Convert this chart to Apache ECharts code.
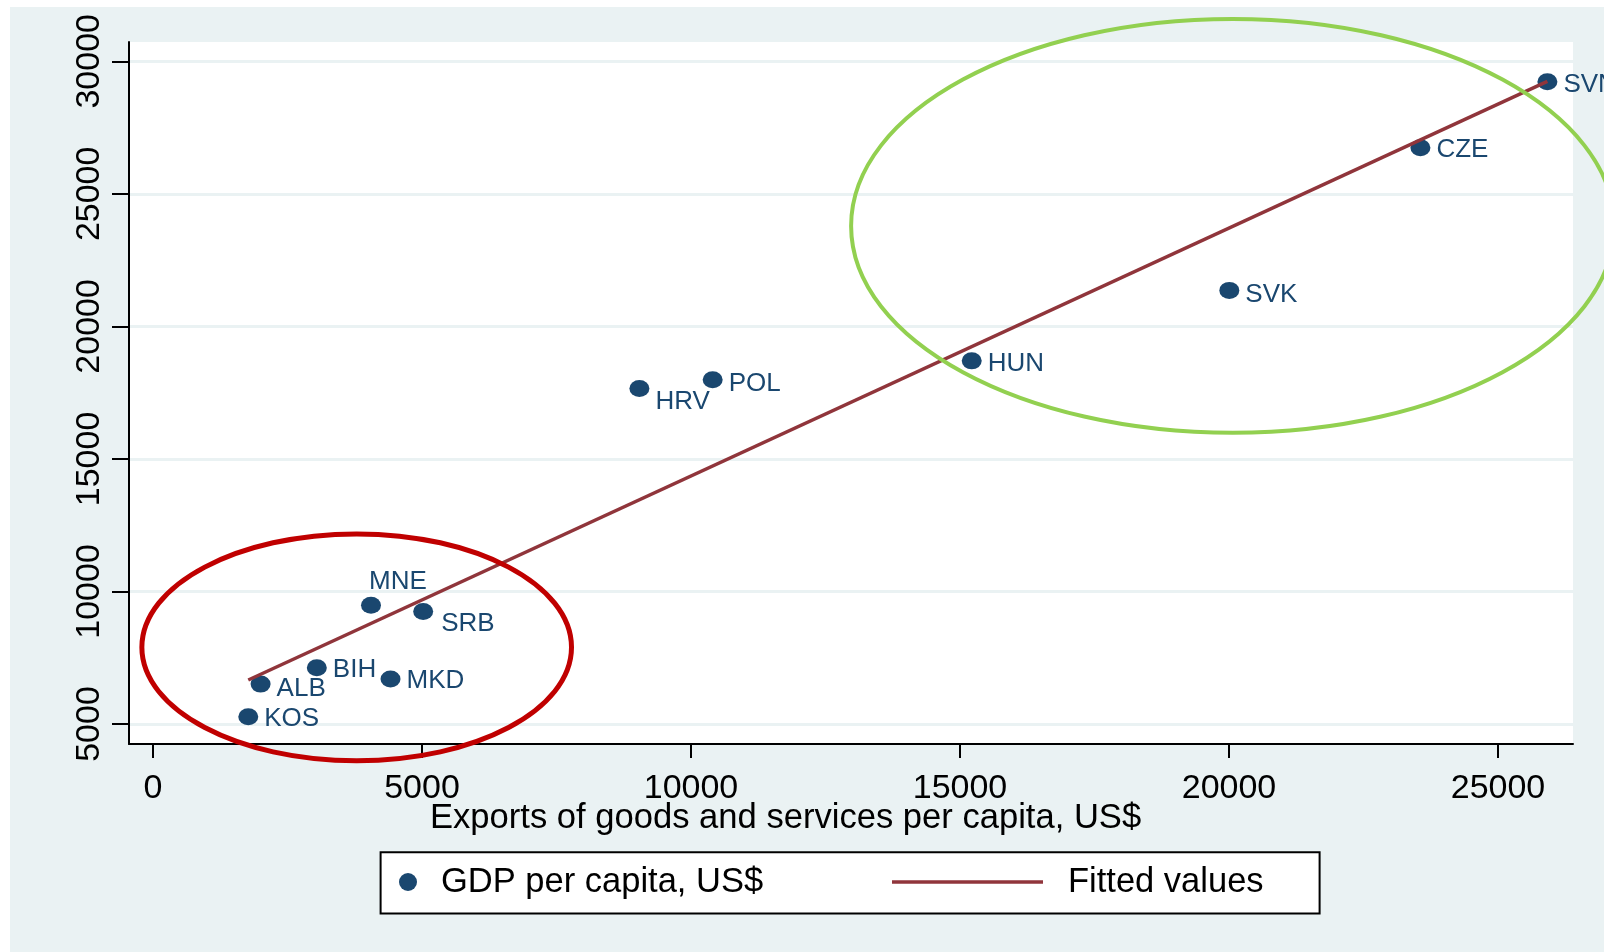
<!DOCTYPE html>
<html><head><meta charset="utf-8">
<script src="https://cdn.jsdelivr.net/npm/echarts@6/dist/echarts.min.js"></script>
<style>html,body{margin:0;padding:0;background:#fff;} #c{width:1604px;height:952px;}</style>
</head><body><div id="c"></div>
<script>
// ---- data ----
const countries = ['SVN','CZE','SVK','HUN','POL','HRV','MNE','SRB','BIH','MKD','ALB','KOS'];
const exportsPC = [25918,23558,20006,15218,10403,9041,4052,5022,3045,4415,2000,1771];
const gdpPC     = [29231,26742,21358,18699,17983,17654,9476,9243,7123,6697,6505,5272];
const fittedX = [1771, 25918];
const fittedY = [6660, 29240];
const xTicks = [0,5000,10000,15000,20000,25000];
const yTicks = [5000,10000,15000,20000,25000,30000];
const seriesNames = ['GDP per capita, US$','Fitted values'];
const xTitle = 'Exports of goods and services per capita, US$';
// annotation ellipses (data units): centre x, centre y, radius x, radius y
const greenEllipse = [20069, 23790, 7093, 7805];
const redEllipse   = [3786, 7892, 3993, 4280];

// ---- styles ----
const FONT = "'Liberation Sans', Arial, Helvetica, sans-serif";
const NAVY = '#1a476f', MAROON = '#90353b', BG = '#eaf2f3';
const labelOffsets = {SVN:[0,3], CZE:[0,2], SVK:[0,4], HUN:[0,3], POL:[0,3.5], HRV:[0,13],
  MNE:[-18,-23.5], SRB:[2,12], BIH:[0,2], MKD:[0,2], ALB:[0,5], KOS:[0,2]};

const scatterData = countries.map((c,i)=>({
  name:c, value:[exportsPC[i], gdpPC[i]],
  label:{offset:labelOffsets[c]}
}));
const lineData = fittedX.map((x,i)=>[x, fittedY[i]]);

const chart = echarts.init(document.getElementById('c'), null, {renderer:'canvas'});
const staticGraphics = [
  {id:'bg', type:'rect', z:-100, silent:true, shape:{x:10,y:7,width:1594,height:945}, style:{fill:BG}},
  {id:'legframe', type:'rect', z:1, silent:true, shape:{x:380.6,y:852.2,width:939,height:61.4}, style:{fill:'#fff', stroke:'#000', lineWidth:2}},
  {id:'xtitle', type:'text', z:5, silent:true, x:430, y:818,
   style:{text:xTitle, font:"34.6px "+FONT, fill:'#000', textVerticalAlign:'middle', verticalAlign:'middle'}}
];
const option = {
  backgroundColor:'#fff',
  animation:false,
  grid:{left:129, top:42, width:1444, height:702, show:true, backgroundColor:'#fff', borderWidth:0, containLabel:false, outerBoundsMode:'none'},
  xAxis:{
    type:'value', min:-446, max:26394,
    axisLine:{show:true, onZero:false, lineStyle:{color:'#000', width:2}},
    axisTick:{show:true, length:14, lineStyle:{color:'#000', width:2}, customValues:xTicks},
    axisLabel:{show:true, customValues:xTicks, margin:28, color:'#000', fontSize:34, fontFamily:FONT, formatter:v=>String(v)},
    splitLine:{show:false}
  },
  yAxis:{
    type:'value', min:4246, max:30728,
    axisLine:{show:true, onZero:false, lineStyle:{color:'#000', width:2}},
    axisTick:{show:true, length:17, lineStyle:{color:'#000', width:2}, customValues:yTicks},
    axisLabel:{show:true, customValues:yTicks, rotate:90, margin:22, color:'#000', fontSize:34, fontFamily:FONT, formatter:v=>String(v)},
    splitLine:{show:true, lineStyle:{color:BG, width:3}}
  },
  legend:[
    {data:[seriesNames[0]], left:399, top:864.5, padding:0, itemWidth:56, itemHeight:18, selectedMode:false,
     icon:'circle', textStyle:{fontSize:34.5, fontFamily:FONT, color:'#000'}},
    {data:[seriesNames[1]], left:892, top:864.5, padding:0, itemWidth:151, itemHeight:3.5, selectedMode:false,
     icon:'rect', textStyle:{fontSize:34.5, fontFamily:FONT, color:'#000', padding:[0,0,0,20]}}
  ],
  series:[
    {name:seriesNames[0], type:'scatter', data:scatterData, symbol:'circle', symbolSize:[20,17],
     itemStyle:{color:NAVY, opacity:1}, z:3,
     label:{show:true, position:'right', distance:6, formatter:p=>p.name, color:NAVY, fontSize:26, fontFamily:FONT},
     emphasis:{disabled:true}},
    {name:seriesNames[1], type:'line', data:lineData, symbol:'none', showSymbol:false, z:4,
     lineStyle:{color:MAROON, width:3.5}, itemStyle:{color:MAROON}, emphasis:{disabled:true}}
  ],
  graphic:{elements:staticGraphics}
};
chart.setOption(option);

function ellipseGraphic(id, e, color, w){
  const c = chart.convertToPixel({gridIndex:0}, [e[0], e[1]]);
  const px = chart.convertToPixel({gridIndex:0}, [e[0]+e[2], e[1]]);
  const py = chart.convertToPixel({gridIndex:0}, [e[0], e[1]+e[3]]);
  return {id:id, type:'ellipse', z:50, silent:true,
    shape:{cx:c[0], cy:c[1], rx:Math.abs(px[0]-c[0]), ry:Math.abs(c[1]-py[1])},
    style:{fill:'none', stroke:color, lineWidth:w}};
}
chart.setOption({graphic:{elements: staticGraphics.concat([
  ellipseGraphic('green', greenEllipse, '#92d050', 4),
  ellipseGraphic('red', redEllipse, '#c00000', 5)
])}});
</script></body></html>
